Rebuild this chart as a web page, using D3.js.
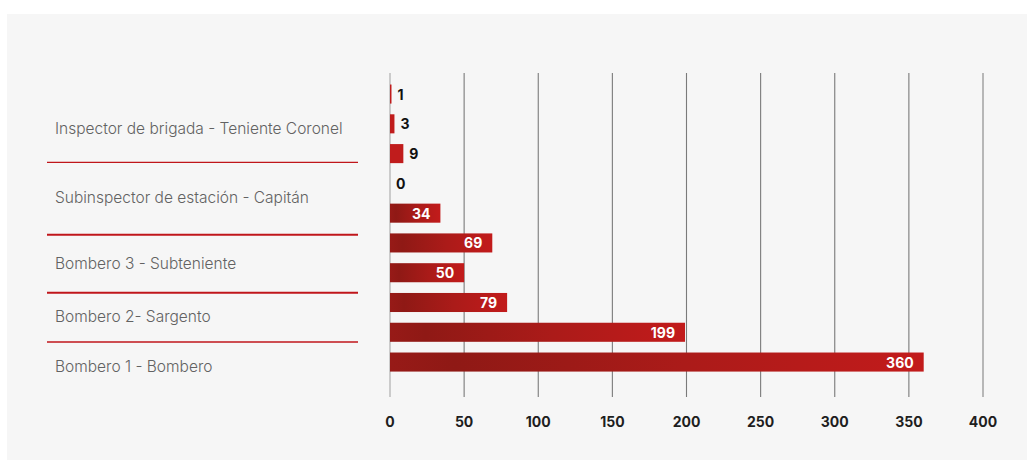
<!DOCTYPE html>
<html>
<head>
<meta charset="utf-8">
<script src="https://cdn.jsdelivr.net/npm/d3@7"></script>
<style>
  html, body { margin: 0; padding: 0; background: #ffffff; }
  svg { display: block; }
</style>
</head>
<body>
<svg id="chart" width="1027" height="460"></svg>
<script>
// Rank groups (left column) and the personnel counts drawn as bars
const groups = [
  "Inspector de brigada - Teniente Coronel",
  "Subinspector de estación - Capitán",
  "Bombero 3 - Subteniente",
  "Bombero 2- Sargento",
  "Bombero 1 - Bombero"
];
const values = [1, 3, 9, 0, 34, 69, 50, 79, 199, 360];
const xTicks = [0, 50, 100, 150, 200, 250, 300, 350, 400];

const W = 1027, H = 460;
const svg = d3.select("#chart");

// panel background
svg.append("rect")
  .attr("x", 7).attr("y", 14)
  .attr("width", W - 7).attr("height", H - 14)
  .attr("fill", "#f6f6f6");

const x = d3.scaleLinear().domain([0, 400]).range([390, 983]);
const y = d3.scaleBand()
  .domain(values.map((d, i) => i))
  .range([73.8, 382.3])
  .padding(0.36);

const gridTop = 73, gridBottom = 397;

// vertical gridlines
svg.append("g").selectAll("line")
  .data(xTicks)
  .join("line")
  .attr("x1", d => x(d)).attr("x2", d => x(d))
  .attr("y1", gridTop).attr("y2", gridBottom)
  .attr("stroke", d => (d === 0 || d === 400) ? "#a8a8a8" : "#7a7a7a")
  .attr("stroke-width", d => d === 400 ? 1.6 : 1.1);

// tick labels below
svg.append("g").selectAll("text")
  .data(xTicks)
  .join("text")
  .attr("x", d => x(d))
  .attr("y", 421.5)
  .attr("text-anchor", "middle")
  .attr("dominant-baseline", "central")
  .attr("font-family", "Inter, 'Noto Sans', sans-serif")
  .attr("font-weight", 700)
  .attr("font-size", 14)
  .attr("fill", "#1e1e1e")
  .text(d => d);

// horizontal red gradient for the bars
const defs = svg.append("defs");
const grad = defs.append("linearGradient")
  .attr("id", "barFill")
  .attr("x1", "0%").attr("x2", "100%")
  .attr("y1", "0%").attr("y2", "0%");
grad.append("stop").attr("offset", "0%").attr("stop-color", "#971a17");
grad.append("stop").attr("offset", "12%").attr("stop-color", "#8f1915");
grad.append("stop").attr("offset", "55%").attr("stop-color", "#ab1b19");
grad.append("stop").attr("offset", "100%").attr("stop-color", "#c21b1b");

const bars = svg.append("g");
bars.selectAll("rect")
  .data(values)
  .join("rect")
  .attr("x", x(0))
  .attr("y", (d, i) => y(i))
  .attr("width", d => x(d) - x(0))
  .attr("height", y.bandwidth())
  .attr("fill", d => d < 20 ? "#c01c1c" : "url(#barFill)");

// value labels: white inside long bars, dark beside short ones
bars.selectAll("text")
  .data(values)
  .join("text")
  .attr("x", d => d >= 20 ? x(d) - 10 : x(d) + 6)
  .attr("y", (d, i) => y(i) + y.bandwidth() / 2)
  .attr("text-anchor", d => d >= 20 ? "end" : "start")
  .attr("dominant-baseline", "central")
  .attr("font-family", "Inter, 'Noto Sans', sans-serif")
  .attr("font-weight", 700)
  .attr("font-size", 14)
  .attr("fill", d => d >= 20 ? "#ffffff" : "#111111")
  .text(d => d);

// left column: rank names with red separators
const labelY = [128, 197.5, 263, 316.5, 366.5];
const sepY = [162.3, 234.7, 292.7, 342];
const sepW = [1.3, 2, 2, 1.3];

svg.append("g").selectAll("text")
  .data(groups)
  .join("text")
  .attr("x", 55)
  .attr("y", (d, i) => labelY[i])
  .attr("dominant-baseline", "central")
  .attr("font-family", "Inter, 'Noto Sans', sans-serif")
  .attr("font-weight", 300)
  .attr("font-size", 15.5)
  .attr("fill", "#626262")
  .text(d => d);

svg.append("g").selectAll("line")
  .data(sepY)
  .join("line")
  .attr("x1", 47).attr("x2", 358)
  .attr("y1", d => d).attr("y2", d => d)
  .attr("stroke", "#c0161b")
  .attr("stroke-width", (d, i) => sepW[i]);
</script>
</body>
</html>
